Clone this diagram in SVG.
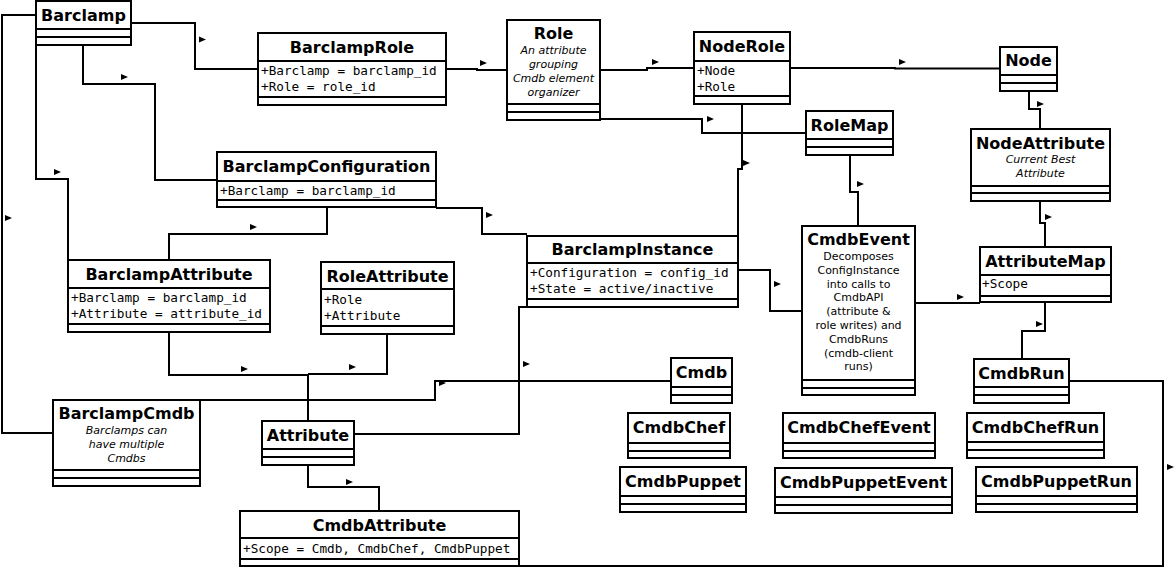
<svg xmlns="http://www.w3.org/2000/svg" xmlns:xlink="http://www.w3.org/1999/xlink" width="1176" height="586" viewBox="0 0 1176 586">
<style>
.box{fill:#fff;stroke:#000;stroke-width:2}
.sep{fill:none;stroke:#000;stroke-width:2}
.con{fill:none;stroke:#000;stroke-width:2}
.t{font-family:"DejaVu Sans","Liberation Sans",sans-serif;font-weight:bold;font-size:16px;text-anchor:middle;fill:#000}
.a{font-family:"DejaVu Sans Mono","Liberation Mono",monospace;font-size:12.7px;fill:#000}
.i{font-family:"DejaVu Sans","Liberation Sans",sans-serif;font-style:italic;font-size:11px;text-anchor:middle;fill:#000}
.d{font-family:"DejaVu Sans","Liberation Sans",sans-serif;font-size:11px;text-anchor:middle;fill:#000}
</style>
<defs>
<polygon id="arr" points="0,-3 7,0 0,3" fill="#000"/>
</defs>
<rect width="1176" height="586" fill="#fff"/>
<g id="connectors">
<path class="con" d="M131,23 H195 V69 H258"/>
<path class="con" d="M83,45 V84 H155 V180 H217"/>
<path class="con" d="M36,45 V179 H68 V260"/>
<path class="con" d="M36,15 H2 V433 H53"/>
<path class="con" d="M446,69 H477 V70 H507"/>
<path class="con" d="M600,70 H647 V68 H694"/>
<path class="con" d="M790,68 H895 V68.5 H1000"/>
<path class="con" d="M1029,91 V109 H1040 V129"/>
<path class="con" d="M600,119 H702 V133 H806"/>
<path class="con" d="M742,104 V169 H738 V236"/>
<path class="con" d="M850,155 V192 H858 V226"/>
<path class="con" d="M1040,201 V223 H1045 V247"/>
<path class="con" d="M915,303 H980"/>
<path class="con" d="M1045,302 V331 H1022 V359"/>
<path class="con" d="M738,270 H770 V311 H802"/>
<path class="con" d="M436,208 H482 V234 H527"/>
<path class="con" d="M169,260 V234 H327 V207"/>
<path class="con" d="M169,332 V375 H308 V421"/>
<path class="con" d="M387,334 V374 H308"/>
<path class="con" d="M200,400 H435 V381 H671"/>
<path class="con" d="M354,434 H519 V307 H527"/>
<path class="con" d="M308,465 V487 H379 V511"/>
<path class="con" d="M1069,381 H1163 V566 H519"/>
<use xlink:href="#arr" x="199" y="39.5"/>
<use xlink:href="#arr" x="121" y="77"/>
<use xlink:href="#arr" x="54" y="172"/>
<use xlink:href="#arr" x="5" y="218"/>
<use xlink:href="#arr" x="480" y="63"/>
<use xlink:href="#arr" x="652" y="62"/>
<use xlink:href="#arr" x="899" y="62"/>
<use xlink:href="#arr" x="1037" y="104"/>
<use xlink:href="#arr" x="707" y="119"/>
<use xlink:href="#arr" x="743" y="163"/>
<use xlink:href="#arr" x="857" y="184"/>
<use xlink:href="#arr" x="1045" y="217"/>
<use xlink:href="#arr" x="957" y="297"/>
<use xlink:href="#arr" x="1036" y="324"/>
<use xlink:href="#arr" x="774" y="284"/>
<use xlink:href="#arr" x="486" y="215"/>
<use xlink:href="#arr" x="250" y="227"/>
<use xlink:href="#arr" x="241" y="369"/>
<use xlink:href="#arr" x="349" y="367"/>
<use xlink:href="#arr" x="439" y="383"/>
<use xlink:href="#arr" x="523" y="364"/>
<use xlink:href="#arr" x="346" y="482"/>
<use xlink:href="#arr" x="1167" y="467"/>
</g>
<g id="Barclamp">
<rect class="box" x="36" y="1" width="95" height="44"/>
<path class="sep" d="M36,29 H131 M36,37 H131"/>
<text class="t" x="83.5" y="20.5">Barclamp</text>
</g>
<g id="BarclampRole">
<rect class="box" x="258" y="33" width="188" height="72"/>
<path class="sep" d="M258,61 H446 M258,97 H446"/>
<text class="t" x="352" y="53">BarclampRole</text>
<text class="a" x="261" y="75">+Barclamp = barclamp_id</text>
<text class="a" x="261" y="91">+Role = role_id</text>
</g>
<g id="Role">
<rect class="box" x="507" y="20" width="93" height="100"/>
<path class="sep" d="M507,104 H600 M507,112 H600"/>
<text class="t" x="553.5" y="38.5">Role</text>
<text class="i" x="553.5" y="54">An attribute</text>
<text class="i" x="553.5" y="68">grouping</text>
<text class="i" x="553.5" y="82">Cmdb element</text>
<text class="i" x="553.5" y="96">organizer</text>
</g>
<g id="NodeRole">
<rect class="box" x="694" y="32" width="96" height="72"/>
<path class="sep" d="M694,61 H790 M694,96 H790"/>
<text class="t" x="742" y="52">NodeRole</text>
<text class="a" x="697" y="74.5">+Node</text>
<text class="a" x="697" y="90.5">+Role</text>
</g>
<g id="Node">
<rect class="box" x="1000" y="47" width="57" height="44"/>
<path class="sep" d="M1000,75 H1057 M1000,83 H1057"/>
<text class="t" x="1028.5" y="66">Node</text>
</g>
<g id="NodeAttribute">
<rect class="box" x="971" y="129" width="139" height="72"/>
<path class="sep" d="M971,186 H1110 M971,193 H1110"/>
<text class="t" x="1040.5" y="149">NodeAttribute</text>
<text class="i" x="1040.5" y="163">Current Best</text>
<text class="i" x="1040.5" y="177">Attribute</text>
</g>
<g id="RoleMap">
<rect class="box" x="806" y="111" width="87" height="44"/>
<path class="sep" d="M806,139 H893 M806,147 H893"/>
<text class="t" x="849.5" y="130.5">RoleMap</text>
</g>
<g id="BarclampConfiguration">
<rect class="box" x="217" y="152" width="219" height="55"/>
<path class="sep" d="M217,181 H436 M217,200 H436"/>
<text class="t" x="326.5" y="171.5">BarclampConfiguration</text>
<text class="a" x="220" y="194.5">+Barclamp = barclamp_id</text>
</g>
<g id="BarclampAttribute">
<rect class="box" x="68" y="260" width="202" height="72"/>
<path class="sep" d="M68,288 H270 M68,324 H270"/>
<text class="t" x="169" y="280">BarclampAttribute</text>
<text class="a" x="71" y="302">+Barclamp = barclamp_id</text>
<text class="a" x="71" y="318">+Attribute = attribute_id</text>
</g>
<g id="RoleAttribute">
<rect class="box" x="321" y="262" width="133" height="72"/>
<path class="sep" d="M321,289 H454 M321,326 H454"/>
<text class="t" x="387.5" y="281.5">RoleAttribute</text>
<text class="a" x="324" y="303.5">+Role</text>
<text class="a" x="324" y="319.5">+Attribute</text>
</g>
<g id="BarclampInstance">
<rect class="box" x="527" y="236" width="211" height="71"/>
<path class="sep" d="M527,263 H738 M527,299 H738"/>
<text class="t" x="632.5" y="255">BarclampInstance</text>
<text class="a" x="530" y="277">+Configuration = config_id</text>
<text class="a" x="530" y="293">+State = active/inactive</text>
</g>
<g id="CmdbEvent">
<rect class="box" x="802" y="226" width="113" height="169"/>
<path class="sep" d="M802,380 H915 M802,388 H915"/>
<text class="t" x="858.5" y="245">CmdbEvent</text>
<text class="d" x="858.5" y="260">Decomposes</text>
<text class="d" x="858.5" y="273.8">ConfigInstance</text>
<text class="d" x="858.5" y="287.6">into calls to</text>
<text class="d" x="858.5" y="301.4">CmdbAPI</text>
<text class="d" x="858.5" y="315.2">(attribute &amp;</text>
<text class="d" x="858.5" y="329">role writes) and</text>
<text class="d" x="858.5" y="342.8">CmdbRuns</text>
<text class="d" x="858.5" y="356.6">(cmdb-client</text>
<text class="d" x="858.5" y="370.4">runs)</text>
</g>
<g id="AttributeMap">
<rect class="box" x="980" y="247" width="131" height="55"/>
<path class="sep" d="M980,275 H1111 M980,296 H1111"/>
<text class="t" x="1045.5" y="266.5">AttributeMap</text>
<text class="a" x="982" y="288">+Scope</text>
</g>
<g id="BarclampCmdb">
<rect class="box" x="53" y="400" width="147" height="86"/>
<path class="sep" d="M53,470 H200 M53,478 H200"/>
<text class="t" x="126.5" y="419">BarclampCmdb</text>
<text class="i" x="126.5" y="434">Barclamps can</text>
<text class="i" x="126.5" y="448">have multiple</text>
<text class="i" x="126.5" y="462">Cmdbs</text>
</g>
<g id="Attribute">
<rect class="box" x="262" y="421" width="92" height="44"/>
<path class="sep" d="M262,449 H354 M262,457 H354"/>
<text class="t" x="308" y="440.5">Attribute</text>
</g>
<g id="CmdbAttribute">
<rect class="box" x="240" y="511" width="279" height="55"/>
<path class="sep" d="M240,538 H519 M240,559 H519"/>
<text class="t" x="379.5" y="530.5">CmdbAttribute</text>
<text class="a" x="243" y="552.5">+Scope = Cmdb, CmdbChef, CmdbPuppet</text>
</g>
<g id="Cmdb">
<rect class="box" x="671" y="358" width="61" height="45"/>
<path class="sep" d="M671,387 H732 M671,395 H732"/>
<text class="t" x="701.5" y="378">Cmdb</text>
</g>
<g id="CmdbChef">
<rect class="box" x="628" y="413" width="102" height="45"/>
<path class="sep" d="M628,443 H730 M628,451 H730"/>
<text class="t" x="679" y="433">CmdbChef</text>
</g>
<g id="CmdbPuppet">
<rect class="box" x="620" y="467" width="126" height="45"/>
<path class="sep" d="M620,496 H746 M620,504 H746"/>
<text class="t" x="683" y="487">CmdbPuppet</text>
</g>
<g id="CmdbChefEvent">
<rect class="box" x="783" y="413" width="152" height="45"/>
<path class="sep" d="M783,443 H935 M783,451 H935"/>
<text class="t" x="859" y="433">CmdbChefEvent</text>
</g>
<g id="CmdbPuppetEvent">
<rect class="box" x="775" y="468" width="177" height="45"/>
<path class="sep" d="M775,497 H952 M775,505 H952"/>
<text class="t" x="863.5" y="488">CmdbPuppetEvent</text>
</g>
<g id="CmdbRun">
<rect class="box" x="974" y="359" width="95" height="44"/>
<path class="sep" d="M974,387 H1069 M974,395 H1069"/>
<text class="t" x="1021.5" y="378.5">CmdbRun</text>
</g>
<g id="CmdbChefRun">
<rect class="box" x="967" y="413" width="137" height="45"/>
<path class="sep" d="M967,442 H1104 M967,450 H1104"/>
<text class="t" x="1035.5" y="433">CmdbChefRun</text>
</g>
<g id="CmdbPuppetRun">
<rect class="box" x="976" y="467" width="161" height="45"/>
<path class="sep" d="M976,496 H1137 M976,504 H1137"/>
<text class="t" x="1056.5" y="487">CmdbPuppetRun</text>
</g>
</svg>
